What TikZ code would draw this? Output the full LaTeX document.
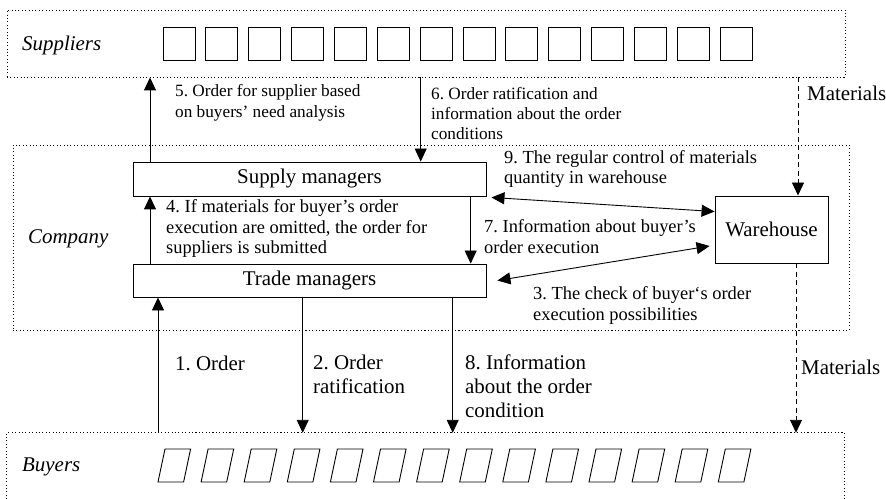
\documentclass[tikz,border=0pt]{standalone}
\usepackage{fontspec}
\setmainfont{Liberation Serif}
\usetikzlibrary{arrows.meta}
\frenchspacing
\begin{document}
\begin{tikzpicture}[x=1bp,y=-1bp,
  every node/.style={inner sep=0pt},
  dotbox/.style={draw,line width=0.9bp,dash pattern=on 1.1bp off 2.3bp},
  dotline/.style={line width=0.9bp,dash pattern=on 1.1bp off 2.3bp},
  mbox/.style={draw,line width=0.9bp,font=\fontsize{21}{24}\selectfont},
  sq/.style={draw,line width=0.9bp,minimum width=32bp,minimum height=33bp},
  arr/.style={line width=0.9bp,-{Triangle[length=13bp,width=12bp]}},
  darr/.style={line width=0.9bp,{Triangle[length=13bp,width=12bp]}-{Triangle[length=13bp,width=12bp]}},
  marr/.style={line width=0.9bp,dash pattern=on 5bp off 3.5bp,-{Triangle[length=13bp,width=12bp]}},
  ann/.style={anchor=west,align=left,font=\fontsize{18.5}{21}\selectfont\frenchspacing},
  sann/.style={anchor=west,align=left,font=\fontsize{17.3}{20.5}\selectfont\frenchspacing},
  big/.style={anchor=west,align=left,font=\fontsize{21}{24}\selectfont\frenchspacing},
  lbl/.style={anchor=west,font=\fontsize{21}{24}\selectfont\itshape}
]
\useasboundingbox (0,0) rectangle (886,499);
% regions
\node[dotbox,minimum width=838bp,minimum height=67bp] (suppliers) at (426,43.5) {};
\node[dotbox,minimum width=836bp,minimum height=185bp] (company) at (431,237.5) {};
\node[minimum width=837bp,minimum height=66bp] (buyers) at (425.5,466) {};
\draw[dotline] (buyers.south west) |- (buyers.north east) -- (buyers.south east);
\node[lbl] (tsup) at (22,45) {Suppliers};
\node[lbl] (tcom) at (28,239) {Company};
\node[lbl] (tbuy) at (22,467) {Buyers};
% suppliers squares
\foreach \i in {0,...,13} \node[sq] (s\i) at ({179+42.85*\i},43.5) {};
% buyers parallelograms
\foreach \i in {0,...,13} \draw[line width=0.9bp] ({158+43.1*\i},482) -- ++(7,-33) -- ++(25.6,0) -- ++(-7,33) -- cycle;
% boxes
\node[mbox,minimum width=353bp,minimum height=34bp] (supply) at (309.5,179) {Supply managers};
\node[mbox,minimum width=353bp,minimum height=33bp] (trade) at (309.5,280.5) {Trade managers};
\node[mbox,minimum width=113bp,minimum height=67bp] (warehouse) at (771.5,229.5) {Warehouse};
% x positions
\coordinate (xa) at (150,0);
\coordinate (xb) at (420.7,0);
\coordinate (xc) at (470.7,0);
\coordinate (xd) at (158,0);
\coordinate (xe) at (302.7,0);
\coordinate (xf) at (452.7,0);
\coordinate (xg) at (798,0);
\coordinate (xh) at (796,0);
% arrows
\draw[arr] (supply.north -| xa) -- (suppliers.south -| xa);
\draw[arr] (suppliers.south -| xb) -- (supply.north -| xb);
\draw[arr] (trade.north -| xa) -- (supply.south -| xa);
\draw[arr] (supply.south -| xc) -- (trade.north -| xc);
\draw[darr] ([shift={(5bp,-1bp)}]supply.south east) -- ([yshift=-16bp]warehouse.north west);
\draw[darr] ([xshift=11bp]trade.east) -- ([shift={(-5bp,-16.5bp)}]warehouse.west);
\draw[arr] (buyers.north -| xd) -- (trade.south -| xd);
\draw[arr] (trade.south -| xe) -- (buyers.north -| xe);
\draw[arr] (trade.south -| xf) -- (buyers.north -| xf);
\draw[marr] (suppliers.south -| xg) -- (warehouse.north -| xg);
\draw[marr] (warehouse.south -| xh) -- (buyers.north -| xh);
% labels
\node[sann] (l5) at (175,103) {5. Order for supplier based\\on buyers’ need analysis};
\node[sann] (l6) at (431,113.5) {6. Order ratification and\\information about the order\\conditions};
\node[ann] (l4) at (166,228.5) {4. If materials for buyer’s order\\execution are omitted, the order for\\suppliers is submitted};
\node[ann] (l9) at (504,169) {9. The regular control of materials\\quantity in warehouse};
\node[ann] (l7) at (484,237) {7. Information about buyer’s\\order execution};
\node[ann] (l3) at (533,305.5) {3. The check of buyer‘s order\\execution possibilities};
\node[big] (l1) at (175,363) {1. Order};
\node[big] (l2) at (313,374) {2. Order\\ratification};
\node[big] (l8) at (465,386) {8. Information\\about the order\\condition};
\node[big] (m1) at (807,93) {Materials};
\node[big] (m2) at (801,367) {Materials};
\end{tikzpicture}
\end{document}
